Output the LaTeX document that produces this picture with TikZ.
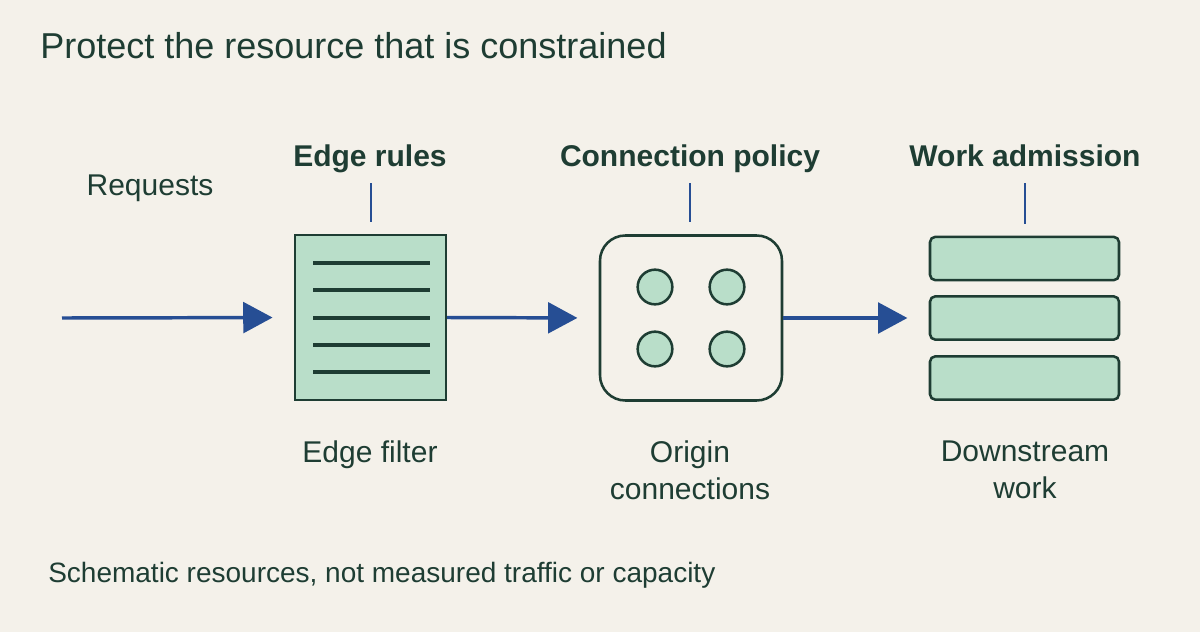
\documentclass[tikz,border=0pt]{standalone}
\usepackage{fontspec}
\setmainfont{Liberation Sans}
\usetikzlibrary{arrows.meta}
\definecolor{bg}{HTML}{F4F1EA}
\definecolor{ink}{HTML}{1E3D33}
\definecolor{flow}{HTML}{264E94}
\definecolor{fillg}{HTML}{B9DEC9}
\begin{document}
\begin{tikzpicture}[x=0.75pt,y=-0.75pt,
  box/.style={draw=ink,fill=fillg,line width=1.9pt,inner sep=0pt},
  tick/.style={draw=flow,line width=2pt,shorten >=9pt},
  arr/.style={draw=flow,line width=2.6pt,shorten >=16pt,-{Triangle[length=22pt,width=23pt]}},
  lbl/.style={text=ink,font=\fontsize{22.5}{28}\selectfont,align=center},
  head/.style={text=ink,font=\bfseries\fontsize{22.5}{27}\selectfont,anchor=base},
  doc/.style={draw=ink,line width=2.4pt}]
\fill[bg] (0,0) rectangle (1200,632);
\useasboundingbox (0,0) rectangle (1200,632);
\node[text=ink,font=\fontsize{27}{32}\selectfont,anchor=base west,inner sep=0pt] (title) at (40,58) {Protect the resource that is constrained};
\node[box,minimum width=113pt,minimum height=123.75pt] (filter) at (370.5,317.5) {};
\foreach \y/\n in {263/a,290/b,318/c,345/d,372/e}
  {\coordinate (l\n) at (313,\y); \coordinate (r\n) at (430,\y); \draw[doc] (l\n) -- (r\n);}
\node[draw=ink,fill=bg,line width=1.9pt,rounded corners=19pt,minimum width=136.5pt,minimum height=123.75pt] (origin) at (691,318) {};
\foreach \x/\y/\n in {655/287/1,727/287/2,655/349/3,727/349/4}
  \node[circle,box,minimum size=26pt] (c\n) at (\x,\y) {};
\foreach \y/\n in {258.5/1,318/2,378/3}
  \node[box,rounded corners=4pt,minimum width=141.75pt,minimum height=32.5pt] (bar\n) at (1024.5,\y) {};
\coordinate (start) at (62,318);
\draw[arr] (start) -- (filter.west);
\draw[arr] (filter.east) -- (origin.west);
\draw[arr] (origin.east) -- (bar2.west);
\node[head] (h1) at (370,166) {Edge rules};
\node[head] (h2) at (690,166) {Connection policy};
\node[head] (h3) at (1025,166) {Work admission};
\coordinate (t1) at (371,183); \coordinate (t2) at (690,183); \coordinate (t3) at (1025,183);
\draw[tick] (t1) -- (t1 |- filter.north);
\draw[tick] (t2) -- (t2 |- origin.north);
\draw[tick] (t3) -- (t3 |- bar1.north);
\node[lbl] (req) at (150,188) {Requests};
\node[lbl,anchor=north] (l1) at (370,436) {Edge filter};
\node[lbl,anchor=north] (l2) at (690,436) {Origin\\connections};
\node[lbl,anchor=north] (l3) at (1025,436) {Downstream\\work};
\node[text=ink,font=\fontsize{21}{24}\selectfont,anchor=base west,inner sep=0pt] (foot) at (48,582) {Schematic resources, not measured traffic or capacity};
\end{tikzpicture}
\end{document}
